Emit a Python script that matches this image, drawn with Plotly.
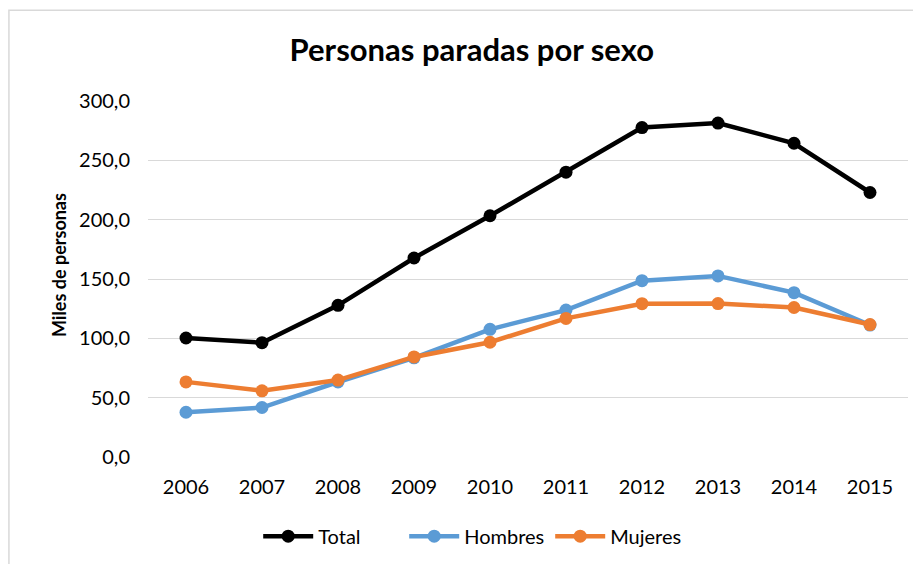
import plotly.graph_objects as go

years = ["2006", "2007", "2008", "2009", "2010", "2011", "2012", "2013", "2014", "2015"]
total = [100.3, 96.3, 127.8, 167.7, 203.3, 240.0, 277.6, 281.4, 264.4, 222.9]
hombres = [37.7, 41.7, 63.2, 83.6, 107.6, 123.8, 148.6, 152.6, 138.5, 111.2]
mujeres = [63.3, 55.8, 64.8, 84.3, 96.7, 116.8, 129.2, 129.3, 126.0, 111.6]

series = [
    ("Total", total, "#000000"),
    ("Hombres", hombres, "#5B9BD5"),
    ("Mujeres", mujeres, "#ED7D31"),
]

FONT = "Lato, 'Open Sans', sans-serif"

fig = go.Figure()
for name, vals, color in series:
    fig.add_trace(go.Scatter(
        x=years, y=vals, name=name, mode="lines+markers",
        line=dict(color=color, width=4.5),
        marker=dict(color=color, size=13),
    ))

# chart-area outline like the Excel frame
fig.add_shape(type="rect", xref="paper", yref="paper",
              x0=-0.183, y0=-0.5, x1=1.2, y1=1.255,
              line=dict(color="#D9D9D9", width=1.5), fillcolor="rgba(0,0,0,0)")

# y axis title placed by hand (Excel style)
fig.add_annotation(text="<b>Miles de personas</b>", xref="paper", yref="paper",
                   x=-0.118, y=0.54, xanchor="center", yanchor="middle",
                   textangle=-90, showarrow=False, font=dict(size=18))

# page body has an 8px margin, so the figure is a bit smaller than the window
fig.update_layout(
    width=913, height=556,
    margin=dict(l=140, r=13, t=93, b=106.5),
    paper_bgcolor="white", plot_bgcolor="white",
    font=dict(family=FONT, size=20, color="#000000"),
    separators=",.",
    title=dict(text="<b>Personas paradas por sexo</b>", x=0.508, xanchor="center",
               y=0.925, yanchor="middle", font=dict(size=31, color="#000000"),
               automargin=False),
    showlegend=True,
    legend=dict(orientation="h", x=0.145, xanchor="left",
                yref="container", y=0.05, yanchor="middle",
                font=dict(size=20), itemwidth=50, entrywidth=81, tracegroupgap=0),
    xaxis=dict(type="category", range=[-0.5, 9.5], showgrid=False, zeroline=False,
               showline=False, ticks="", tickfont=dict(size=20), ticklabelstandoff=16,
               automargin=False),
    yaxis=dict(range=[0, 300], dtick=50, tickformat=".1f", showgrid=True,
               gridcolor="#D9D9D9", gridwidth=1.2, zeroline=False, showline=False,
               ticks="", ticklen=0, tickfont=dict(size=20), ticklabelstandoff=17,
               automargin=False),
)

fig.write_html("out.html")
